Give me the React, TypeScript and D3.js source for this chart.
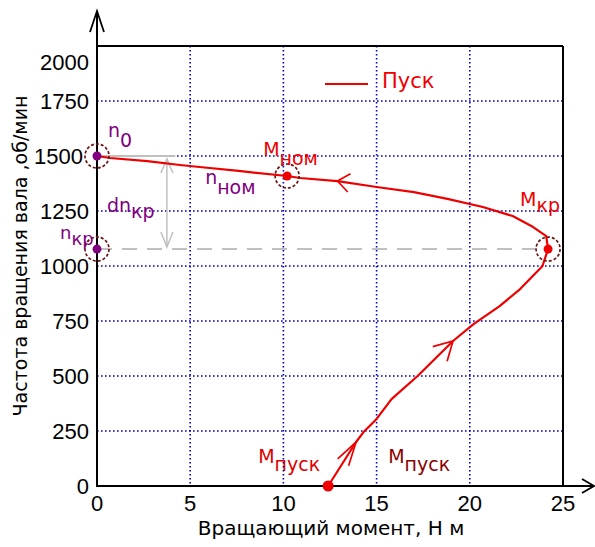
import React from "react";
import * as d3 from "d3";

// ---- data ----
const xTicks = [0, 5, 10, 15, 20, 25];
const yTicks = [0, 250, 500, 750, 1000, 1250, 1500, 1750, 2000];
const curveTorque = [0, 0.7, 2.7, 4.45, 5.5, 7.6, 10.2, 10.9, 12.9, 15.0, 17.0, 18.8, 20.7, 22.3, 23.4, 24.1, 24.2, 23.9, 22.7, 21.6, 20.2, 19.1, 17.2, 15.8, 15.0, 14.3, 13.9, 12.4];
const curveSpeed = [1500, 1491, 1477, 1459, 1450, 1432, 1409, 1400, 1386, 1359, 1336, 1305, 1268, 1227, 1177, 1136, 1077, 1000, 895, 818, 736, 659, 500, 395, 305, 245, 200, 0];
const arrowIndex = [8, 21, 26];
const n0Speed = 1500;
const nomTorque = 10.2;
const nomSpeed = 1409;
const krTorque = 24.2;
const krSpeed = 1077;
const puskTorque = 12.4;
const legendLabel = "Пуск";
const xTitle = "Вращающий момент, Н м";
const yTitle = "Частота вращения вала ,об/мин";

// ---- styles ----
const arrowStyle = [
  { len: 15, spread: 38 },
  { len: 21, spread: 29 },
  { len: 25, spread: 15 },
];
const RED = "#ee0000";
const PURPLE = "#800080";
const CIRCLE = "#6e1414";
const GRID = "#0000c8";
const GRAY = "#c0c0c0";
const NUM_FONT = "'Liberation Sans', Arial, sans-serif";
const TXT_FONT = "'DejaVu Sans', sans-serif";

export default function App() {
  const W = 595, H = 547;
  const x = d3.scaleLinear().domain([0, 25]).range([97, 563]);
  const y = d3.scaleLinear().domain([0, 2000]).range([486, 46]);
  const pts: [number, number][] = curveTorque.map((t, i) => [x(t), y(curveSpeed[i])]);
  const line = d3.line<[number, number]>().x((d) => d[0]).y((d) => d[1]);

  const arrows = arrowIndex.map((idx, k) => {
    const [tx, ty] = pts[idx];
    const [bx, by] = pts[idx + 1];
    const ang = Math.atan2(by - ty, bx - tx);
    const { len, spread } = arrowStyle[k];
    const s = (spread * Math.PI) / 180;
    const a1 = [tx + len * Math.cos(ang - s), ty + len * Math.sin(ang - s)];
    const a2 = [tx + len * Math.cos(ang + s), ty + len * Math.sin(ang + s)];
    return `M${a1[0]},${a1[1]}L${tx},${ty}L${a2[0]},${a2[1]}`;
  });

  const x0 = x(0), xR = x(25), yB = y(0), yT = y(2000);
  const circle = (cx: number, cy: number, fill: string, key: string) => (
    <g key={key}>
      <circle cx={cx} cy={cy} r={12} fill="none" stroke={CIRCLE} strokeWidth={1.7} strokeDasharray="3,2" />
      <circle cx={cx} cy={cy} r={4.5} fill={fill} />
    </g>
  );
  const sub = (main: string, s: string, px: number, py: number, color: string, dy: number, size = 19) => (
    <text x={px} y={py} fill={color} fontFamily={TXT_FONT} fontSize={size}>
      <tspan>{main}</tspan>
      <tspan dy={dy}>{s}</tspan>
    </text>
  );
  const dnX = x(3.75);

  return (
    <div style={{ position: "absolute", left: 0, top: 0, width: W, height: H, background: "#fff" }}>
      <svg width={W} height={H} style={{ display: "block" }}>
        <rect width={W} height={H} fill="#fff" />
        {/* grid */}
        {xTicks.filter((t) => t > 0 && t < 25).map((t) => (
          <line key={"gx" + t} x1={x(t)} x2={x(t)} y1={yT} y2={yB} stroke={GRID} strokeWidth={1.6} strokeDasharray="1.6,2.4" />
        ))}
        {yTicks.filter((t) => t > 0 && t < 2000).map((t) => (
          <line key={"gy" + t} x1={x0} x2={xR} y1={y(t)} y2={y(t)} stroke={GRID} strokeWidth={1.6} strokeDasharray="1.6,2.4" />
        ))}
        {/* frame */}
        <line x1={x0} x2={xR} y1={yT} y2={yT} stroke="#000" strokeWidth={2} />
        <line x1={xR} x2={xR} y1={yT} y2={yB} stroke="#000" strokeWidth={2} />
        {/* axes with arrows */}
        <line x1={x0} x2={x0} y1={yB + 1} y2={11} stroke="#000" strokeWidth={2} />
        <path d={`M${x0 - 7},${32}L${x0},${11}L${x0 + 7},${32}`} fill="none" stroke="#000" strokeWidth={1.8} />
        <line x1={x0 - 1} x2={594} y1={yB} y2={yB} stroke="#000" strokeWidth={2} />
        <path d={`M${582},${yB - 7}L${594},${yB}L${582},${yB + 7}`} fill="none" stroke="#000" strokeWidth={1.8} />
        {/* tick labels */}
        {yTicks.map((t) => {
          const py = y(t);
          const shifted = py < yT + 5 ? py + 16 : py;
          return (
            <text key={"yl" + t} x={t === n0Speed ? 83 : 89} y={shifted} dy="0.36em" textAnchor="end" fontFamily={NUM_FONT} fontSize={22} fill="#000">
              {t}
            </text>
          );
        })}
        {xTicks.map((t) => (
          <text key={"xl" + t} x={x(t)} y={503} dy="0.36em" textAnchor="middle" fontFamily={NUM_FONT} fontSize={22} fill="#000">
            {t}
          </text>
        ))}
        {/* titles */}
        <text x={331} y={528} dy="0.36em" textAnchor="middle" fontFamily={TXT_FONT} fontSize={20} fill="#000">
          {xTitle}
        </text>
        <text transform={`translate(20,256) rotate(-90)`} dy="0.36em" textAnchor="middle" fontFamily={TXT_FONT} fontSize={19} fill="#000">
          {yTitle}
        </text>
        {/* gray annotations */}
        <line x1={x0} x2={x(4.2)} y1={y(n0Speed)} y2={y(n0Speed)} stroke={GRAY} strokeWidth={2} />
        <line x1={x0} x2={x(krTorque)} y1={y(krSpeed)} y2={y(krSpeed)} stroke={GRAY} strokeWidth={2} strokeDasharray="15,10" />
        <line x1={dnX} x2={dnX} y1={y(n0Speed) + 3} y2={y(krSpeed) - 2} stroke={GRAY} strokeWidth={1.5} />
        <path d={`M${dnX - 6},${y(n0Speed) + 17}L${dnX},${y(n0Speed) + 3}L${dnX + 6},${y(n0Speed) + 17}`} fill="none" stroke={GRAY} strokeWidth={1.5} />
        <path d={`M${dnX - 6},${y(krSpeed) - 17}L${dnX},${y(krSpeed) - 2}L${dnX + 6},${y(krSpeed) - 17}`} fill="none" stroke={GRAY} strokeWidth={1.5} />
        {/* curve */}
        <path d={line(pts) || ""} fill="none" stroke={RED} strokeWidth={2.2} strokeLinejoin="round" />
        {arrows.map((d, i) => (
          <path key={"ar" + i} d={d} fill="none" stroke={RED} strokeWidth={1.7} />
        ))}
        {/* legend */}
        <line x1={325} x2={368} y1={84} y2={84} stroke={RED} strokeWidth={2} />
        <text x={382} y={88} fill={RED} fontFamily={TXT_FONT} fontSize={21}>
          {legendLabel}
        </text>
        {/* markers */}
        {circle(x0, y(n0Speed), PURPLE, "n0")}
        {circle(x0, y(krSpeed), PURPLE, "nkr")}
        {circle(x(nomTorque), y(nomSpeed), RED, "mnom")}
        {circle(x(krTorque), y(krSpeed), RED, "mkr")}
        <circle cx={x(puskTorque)} cy={y(0)} r={5.5} fill={RED} />
        {/* labels */}
        {sub("n", "0", x0 + 11, y(n0Speed) - 19, PURPLE, 10)}
        {sub("M", "ном", x(nomTorque) - 24, y(nomSpeed) - 20, RED, 9)}
        {sub("n", "ном", x(nomTorque) - 82, y(nomSpeed) + 8, PURPLE, 10)}
        {sub("M", "кр", x(krTorque) - 28, y(krSpeed) - 43, RED, 6)}
        {sub("dn", "кр", x0 + 10, y(krSpeed) - 37, PURPLE, 6)}
        {sub("n", "кр", x0 - 37, y(krSpeed) - 10, PURPLE, 6, 18)}
        {sub("M", "пуск", x(puskTorque) - 70, y(0) - 23, "#dd0000", 8)}
        {sub("M", "пуск", x(puskTorque) + 60, y(0) - 23, "#8b0000", 8)}
      </svg>
    </div>
  );
}
